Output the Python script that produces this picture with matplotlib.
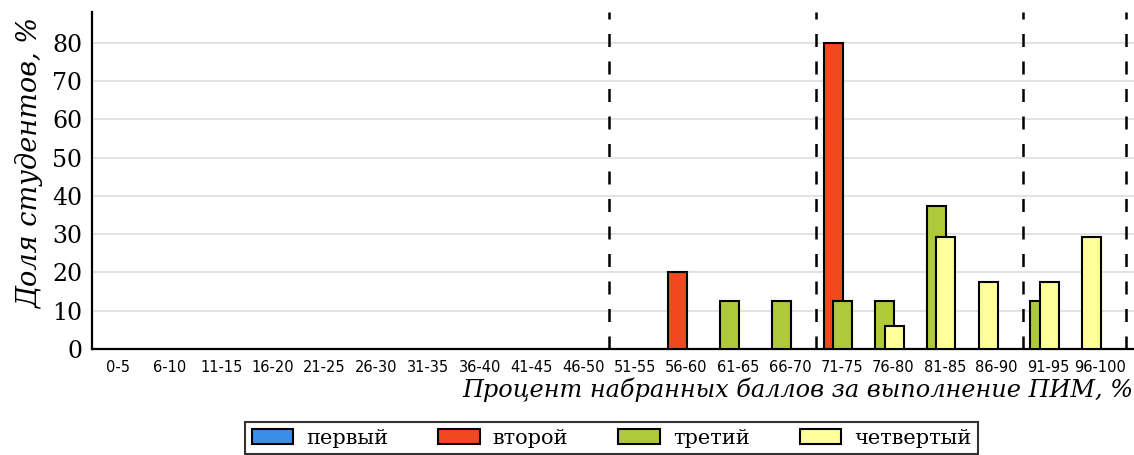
import numpy as np
import matplotlib
matplotlib.use("Agg")
import matplotlib.pyplot as plt
from matplotlib.patches import Patch

# score bins
categories = ["0-5", "6-10", "11-15", "16-20", "21-25", "26-30", "31-35", "36-40",
              "41-45", "46-50", "51-55", "56-60", "61-65", "66-70", "71-75", "76-80",
              "81-85", "86-90", "91-95", "96-100"]

series_names = ["первый", "второй", "третий", "четвертый"]
series_colors = ["#3b8ee8", "#f04820", "#b0c83c", "#ffff99"]

first = [0] * 20
second = [0, 0, 0, 0, 0, 0, 0, 0, 0, 0, 0, 20, 0, 0, 80, 0, 0, 0, 0, 0]
third = [0, 0, 0, 0, 0, 0, 0, 0, 0, 0, 0, 0, 12.5, 12.5, 12.5, 12.5, 37.5, 0, 12.5, 0]
fourth = [0, 0, 0, 0, 0, 0, 0, 0, 0, 0, 0, 0, 0, 0, 0, 5.9, 29.4, 17.6, 17.6, 29.4]

boundaries = [10, 14, 18, 20]

values = [first, second, third, fourth]

fig = plt.figure(figsize=(11.34, 4.55), dpi=100)
ax = fig.add_axes([92 / 1134, 1 - 349 / 455, 1 - 92 / 1134, (349 - 12) / 455])

bar_w = 0.367
step = 0.184
for k in range(len(categories)):
    # only non-empty series get a slot, packed from the left of the group
    slot = 0
    for s in range(4):
        v = values[s][k]
        if v > 0:
            ax.bar(k + 0.15 + slot * step, v, width=bar_w, align="edge",
                   color=series_colors[s], edgecolor="black", linewidth=1.5,
                   zorder=3 + s)
            slot += 1

for b in boundaries:
    ax.axvline(b, color="black", linewidth=1.8, linestyle=(0, (5.2, 5.8)), zorder=2)

ax.set_xlim(0, 20 + 8 / 51.7)
ax.set_ylim(0, 88.1)
ax.set_yticks(np.arange(0, 81, 10))
ax.set_yticklabels([str(t) for t in range(0, 81, 10)], fontfamily="DejaVu Serif", fontsize=17)
ax.set_xticks(np.arange(20) + 0.5)
ax.set_xticklabels(categories, fontfamily="DejaVu Sans", fontsize=10.5)
ax.tick_params(axis="both", length=0)
ax.tick_params(axis="y", pad=7)
ax.tick_params(axis="x", pad=8)
ax.grid(axis="y", color="#dddddd", linewidth=1.2, zorder=1)
for side in ["top", "right"]:
    ax.spines[side].set_visible(False)
ax.spines["left"].set_linewidth(1.6)
ax.spines["bottom"].set_linewidth(1.6)

fig.text(1133 / 1134, 1 - 390 / 455, "Процент набранных баллов за выполнение ПИМ, %",
         ha="right", va="center", fontfamily="DejaVu Serif", style="italic", fontsize=17.3)
fig.text(30 / 1134, 1 - 162 / 455, "Доля студентов, %", rotation=90,
         ha="center", va="center", fontfamily="DejaVu Serif", style="italic", fontsize=19.5)

handles = [Patch(facecolor=c, edgecolor="black", linewidth=1.5) for c in series_colors]
leg = fig.legend(handles, series_names, loc="upper center", ncol=4,
                 bbox_to_anchor=(611.5 / 1134, 1 - 412 / 455),
                 prop={"family": "DejaVu Serif", "size": 15},
                 frameon=True, fancybox=False, edgecolor="black",
                 handlelength=2.0, handleheight=0.77, handletextpad=0.62,
                 columnspacing=2.4, borderpad=0.3)
leg.get_frame().set_linewidth(1.5)

fig.savefig("out.png", dpi=100)
